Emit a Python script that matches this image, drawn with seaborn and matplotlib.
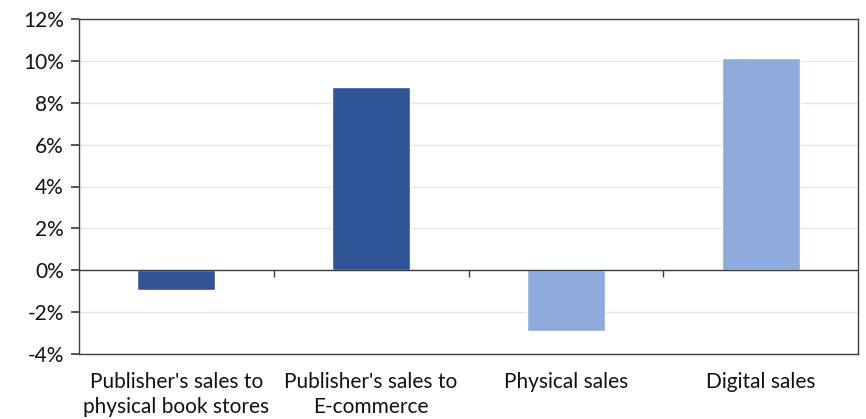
import matplotlib
matplotlib.use("Agg")
import matplotlib.pyplot as plt
import seaborn as sns
import pandas as pd
from matplotlib.ticker import FuncFormatter, MultipleLocator

categories = ["Publisher's sales to\nphysical book stores", "Publisher's sales to\nE-commerce",
              "Physical sales", "Digital sales"]
values = [-0.95, 8.75, -2.9, 10.15]
colors = ["#2F5597", "#2F5597", "#8FAADC", "#8FAADC"]

sns.set_theme(style="white")
plt.rcParams['font.family'] = ['Lato', 'DejaVu Sans']

df = pd.DataFrame({"cat": categories, "val": values})
fig = plt.figure(figsize=(8.66, 4.19), dpi=100)
ax = fig.add_axes([79/866, 1-354/419, (858-79)/866, (354-19)/419])
sns.barplot(data=df, x="cat", y="val", hue="cat", palette=colors, width=0.4,
            legend=False, ax=ax, saturation=1)

ax.set_ylim(-4, 12)
ax.set_xlim(-0.5, 3.5)
ax.yaxis.set_major_locator(MultipleLocator(2))
ax.yaxis.set_major_formatter(FuncFormatter(lambda v, p: f"{v:.0f}%"))
ax.grid(axis="y", color="#e6e6e6", linewidth=1)
ax.set_axisbelow(True)
ax.axhline(0, color="#404040", linewidth=1, zorder=3)
ax.vlines([0.5, 1.5, 2.5], -0.3, 0, color="#404040", linewidth=1, zorder=3)
for s in ax.spines.values():
    s.set_color("#404040")
    s.set_linewidth(1)
ax.tick_params(axis="y", left=True, length=6, color="#404040", labelsize=15, pad=5)
ax.tick_params(axis="x", bottom=False, labelsize=15, pad=7)
for lab in ax.get_xticklabels():
    lab.set_linespacing(1.3)
ax.set_xlabel("")
ax.set_ylabel("")
for lab in ax.get_xticklabels() + ax.get_yticklabels():
    lab.set_color("#111111")
fig.savefig("out.png", dpi=100)
